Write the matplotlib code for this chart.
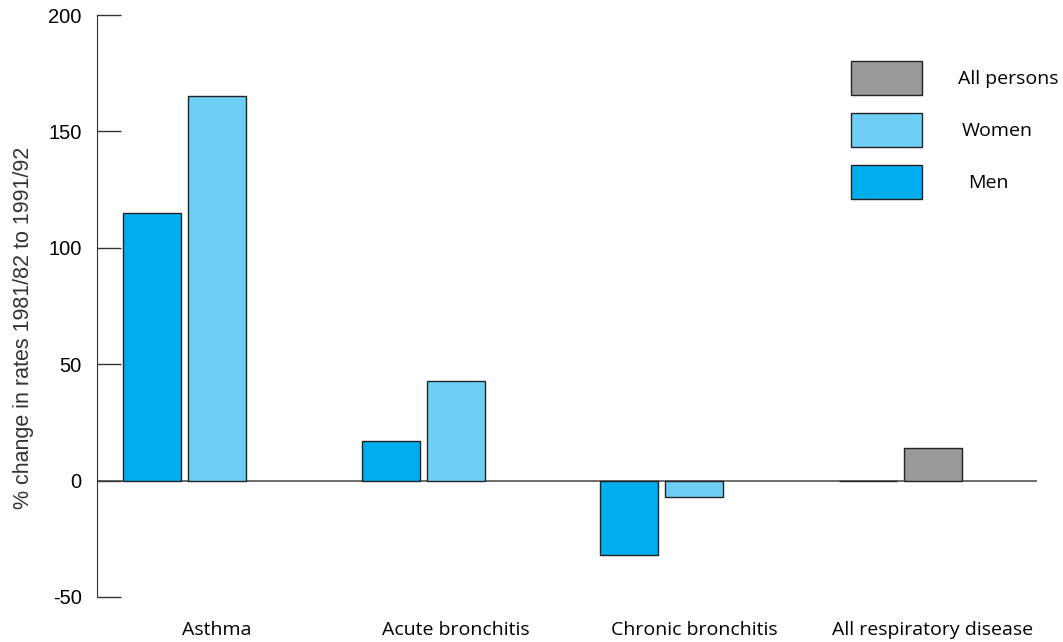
import matplotlib.pyplot as plt
from matplotlib.patches import Rectangle

categories = ['Asthma', 'Acute bronchitis', 'Chronic bronchitis', 'All respiratory disease']
# first bar / second bar in each group
men = [115, 17, -32, 0]
women = [165, 43, -7, None]
all_persons = [None, None, None, 14]
y_ticks = [-50, 0, 50, 100, 150, 200]

c_men = '#00aeef'
c_women = '#6dcff6'
c_all = '#9a9a9a'

fig = plt.figure(figsize=(10.63, 6.42), dpi=100)
ax = fig.add_axes([0.0913, 0.0701, 0.8842, 0.9065])

w = 0.243
off = 0.272
for i in range(len(categories)):
    ax.bar(i, men[i], width=w, align='edge', color=c_men, edgecolor='#222222', lw=1)
    if women[i] is not None:
        ax.bar(i + off, women[i], width=w, align='edge', color=c_women, edgecolor='#222222', lw=1)
    if all_persons[i] is not None:
        ax.bar(i + off, all_persons[i], width=w, align='edge', color=c_all, edgecolor='#222222', lw=1)

ax.axhline(0, color='#555555', lw=1.2, zorder=0)
ax.set_xlim(-0.109, 3.829)
ax.set_ylim(-50, 200)

for s in ['top', 'right', 'bottom']:
    ax.spines[s].set_visible(False)
ax.spines['left'].set_color('#333333')

ax.set_yticks(y_ticks)
ax.set_yticklabels([str(v) for v in y_ticks], family='Liberation Sans', fontsize=14.5)
ax.tick_params(axis='y', direction='in', length=17, width=1, color='#333333', pad=11)

ax.set_xticks([i + off + w / 2 for i in range(len(categories))])
ax.set_xticklabels(categories, family='Open Sans', fontsize=14)
ax.tick_params(axis='x', length=0, pad=17)

fig.text(0.022, 0.489, '% change in rates 1981/82 to 1991/92', rotation=90,
         ha='center', va='center', fontsize=15.5,
         family='Liberation Sans', color='#333333')

# legend drawn by hand
leg = [('All persons', c_all, 61, 958), ('Women', c_women, 113, 962), ('Men', c_men, 165, 968)]
for label, col, ytop, xt in leg:
    fig.add_artist(Rectangle((851 / 1063, 1 - (ytop + 34) / 642), 71 / 1063, 34 / 642,
                             transform=fig.transFigure, facecolor=col,
                             edgecolor='#222222', lw=1))
    fig.text(xt / 1063, 1 - (ytop + 18) / 642, label, ha='left', va='center',
             fontsize=14, family='Open Sans')

fig.savefig('out.png', dpi=100)
